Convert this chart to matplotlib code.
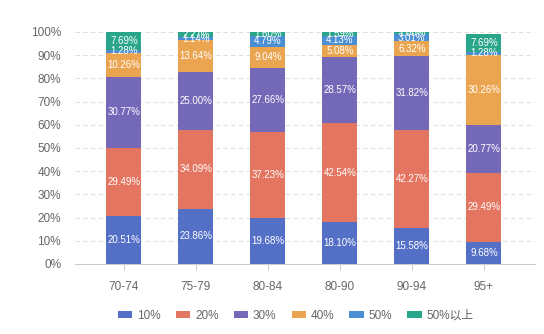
import matplotlib.pyplot as plt
import numpy as np

plt.rcParams['font.family'] = ['Liberation Sans', 'Noto Sans CJK SC']

categories = ['70-74', '75-79', '80-84', '80-90', '90-94', '95+']
series_names = ['10%', '20%', '30%', '40%', '50%', '50%以上']
s10 = [20.51, 23.86, 19.68, 18.10, 15.58, 9.68]
s20 = [29.49, 34.09, 37.23, 42.54, 42.27, 29.49]
s30 = [30.77, 25.00, 27.66, 28.57, 31.82, 20.77]
s40 = [10.26, 13.64, 9.04, 5.08, 6.32, 30.26]
s50 = [1.28, 1.14, 4.79, 4.13, 3.01, 1.28]
s50_up = [7.69, 2.27, 1.60, 1.59, 1.00, 7.69]
y_ticks = [0, 10, 20, 30, 40, 50, 60, 70, 80, 90, 100]

colors = ['#5470c6', '#e47561', '#7468b8', '#eba550', '#4a8fd4', '#29a68a']
series = [s10, s20, s30, s40, s50, s50_up]

fig = plt.figure(figsize=(5.44, 3.34), dpi=100)
ax = fig.add_axes([0.1379, 0.2096, 0.8456, 0.6946])

x = np.arange(len(categories))
bottom = np.zeros(len(categories))
for name, vals, col in zip(series_names, series, colors):
    vals = np.array(vals)
    ax.bar(x, vals, width=0.486, bottom=bottom, color=col, label=name, zorder=3)
    for xi, b, v in zip(x, bottom, vals):
        ax.text(xi, b + v / 2, f'{v:.2f}%', ha='center', va='center',
                color='white', fontsize=7, zorder=4)
    bottom += vals

ax.set_xlim(-0.68, 5.71)
ax.set_ylim(0, 100)
ax.set_yticks(y_ticks)
ax.set_yticklabels([f'{t}%' for t in y_ticks])
ax.set_xticks(x)
ax.set_xticklabels(categories)

for t in y_ticks[1:]:
    ax.axhline(t, color='#e0e0e0', linestyle=(0, (4, 3)), linewidth=0.8, zorder=1)

for s in ['top', 'right', 'left']:
    ax.spines[s].set_visible(False)
ax.spines['bottom'].set_color('#cccccc')
ax.tick_params(axis='y', length=0, pad=10, labelsize=8.5, labelcolor='#666666')
ax.tick_params(axis='x', length=4, color='#cccccc', pad=8, labelsize=8.5, labelcolor='#666666')

leg = ax.legend(loc='center', bbox_to_anchor=(0.48, -0.224), ncol=6, frameon=False,
                fontsize=8.5, handlelength=1.2, handleheight=0.5, columnspacing=1.3,
                handletextpad=0.4)
for txt in leg.get_texts():
    txt.set_color('#666666')

fig.savefig('out.png', dpi=100)
